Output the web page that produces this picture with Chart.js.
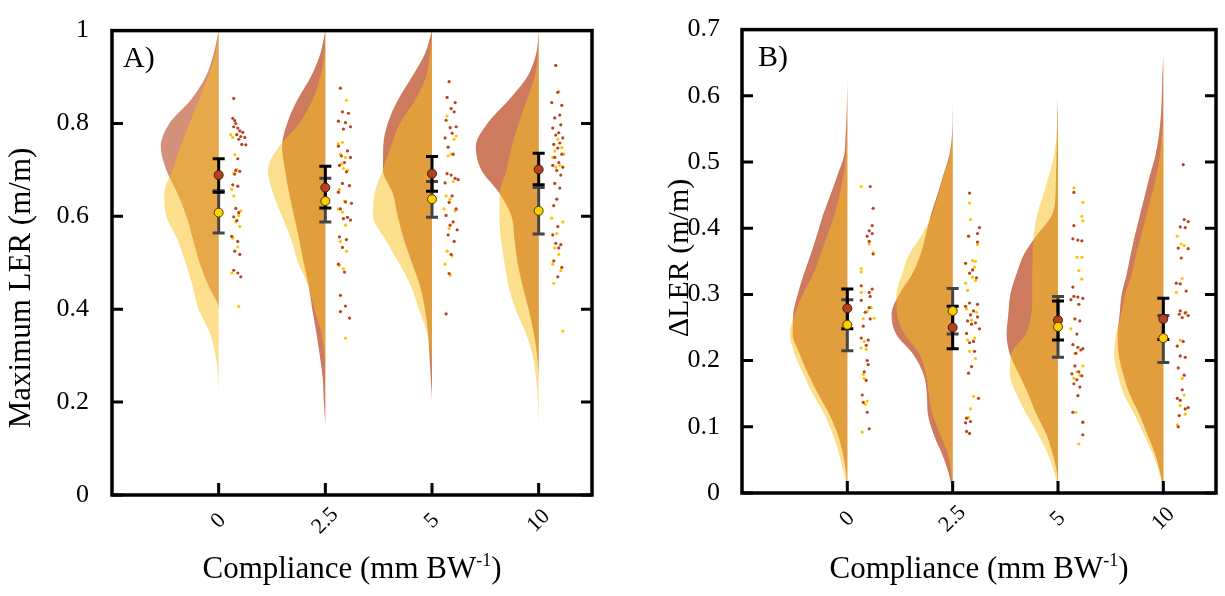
<!DOCTYPE html>
<html>
<head>
<meta charset="utf-8">
<script src="https://cdn.jsdelivr.net/npm/chart.js@4/dist/chart.umd.min.js"></script>
<style>
  body { margin: 0; background: #fff; }
  #wrap { position: relative; width: 1225px; height: 596px; }
  canvas { position: absolute; top: 0; }
  #chartA { left: 0; }
  #chartB { left: 612px; }
</style>
</head>
<body>
<div id="wrap">
  <canvas id="chartA" width="612" height="596"></canvas>
  <canvas id="chartB" width="613" height="596"></canvas>
</div>
<script>
const categories = ['0', '2.5', '5', '10'];

// y levels at which the cloud widths were read
const gridA = [0.15, 0.20, 0.25, 0.30, 0.35, 0.40, 0.45, 0.50, 0.55, 0.60, 0.65, 0.70, 0.75, 0.80, 0.85, 0.90, 0.95, 1.00];
const gridB = [0, 0.03, 0.06, 0.09, 0.12, 0.15, 0.18, 0.21, 0.24, 0.27, 0.30, 0.33, 0.36, 0.39, 0.42, 0.45, 0.48, 0.51, 0.54, 0.57, 0.60, 0.63, 0.66];

// half-widths of the density clouds (106 = one category step), one row per category
const cloudA_red = [
  [0, 0, 0, 0, 0, 0, 10, 19, 25.5, 32, 41, 52, 57.5, 49, 28, 13, 5, 0],
  [0, 1.5, 2.5, 5.5, 9, 13, 16.5, 21.5, 26, 31, 36, 40, 43, 38, 28, 14.5, 5, 0],
  [0, 0, 1.2, 2.5, 4, 7, 12, 20, 28, 34, 39, 48.7, 48.5, 44, 34, 20, 7, 0],
  [0, 0, 0, 1.5, 5, 10, 16, 21, 24, 27, 39, 57, 62.5, 51, 30, 11.5, 2.5, 0]
];
const cloudA_yellow = [
  [0, 0, 0.5, 3, 9, 20, 26, 33, 41, 52, 54, 46, 38, 29, 20, 11, 3, 0],
  [0, 0, 0, 1, 4, 11, 17, 27, 34, 43, 52, 57, 46, 26, 13, 5, 1, 0],
  [0, 0, 0, 1, 5, 13, 21, 33, 46.5, 58.5, 57, 49, 41, 32, 17, 6, 2, 0],
  [0, 0.8, 2.5, 6, 13, 23, 30, 34, 37.5, 39, 38.7, 32, 27, 20, 12, 4, 0.8, 0]
];
const cloudB_red = [
  [0, 1.2, 4.5, 10, 18.5, 29.5, 39.5, 48, 55, 54.5, 50, 44, 37, 30.5, 24.5, 17, 10, 3.3, 1.8, 0.8, 0.3, 0, 0],
  [0, 4, 11, 19.5, 25, 26, 29.5, 40, 57, 61.5, 54, 41, 32.5, 27, 22, 15.5, 9.5, 3.5, 0.7, 0.2, 0, 0, 0],
  [0, 1, 5.5, 12, 22, 30, 39.5, 48.5, 51.7, 50, 48, 42, 34.5, 21, 6, 2.5, 2, 1.5, 1, 0.5, 0, 0, 0],
  [0, 3, 8.5, 16.5, 24.5, 34, 40.5, 45, 46, 44, 42, 37, 33, 28.5, 23.5, 18.5, 13.5, 8, 4.5, 2.5, 1.5, 1, 0]
];
const cloudB_yellow = [
  [0, 3.5, 8.5, 15, 23.5, 35, 44.5, 53, 58, 53, 45, 34.5, 27, 20, 13, 8, 4, 1.5, 0.8, 0.3, 0, 0, 0],
  [0, 1.5, 5, 13, 20.5, 24, 27, 33.5, 48.5, 56, 56.5, 51, 44, 31, 21, 14.5, 9, 3, 0.5, 0, 0, 0, 0],
  [0, 3.5, 10.5, 20.5, 32, 42, 48.5, 47, 32.5, 27, 26, 26, 25.5, 24.5, 21, 15, 9, 4, 1.5, 0.5, 0, 0, 0],
  [0, 4, 11, 20, 29.5, 40, 46, 49.5, 47.5, 42.5, 38.5, 32, 27.5, 22, 17, 11.5, 7, 3.5, 1.5, 0, 0, 0, 0]
];

// raw points: [jitter (106 = one step), value]
const dotsA_red = [
  [[15,.854],[14,.811],[16,.806],[17,.800],[15,.793],[19,.790],[21,.784],[24,.781],[18,.776],[22,.772],[26,.770],[20,.766],[23,.755],[27,.754],[19,.724],[17,.699],[21,.697],[16,.691],[14,.668],[19,.665],[17,.617],[20,.608],[15,.599],[18,.591],[13,.557],[19,.546],[16,.525],[21,.518],[15,.484],[19,.478],[22,.470]],
  [[15,.876],[17,.825],[23,.822],[13,.805],[20,.802],[25,.793],[18,.788],[13,.751],[22,.741],[16,.730],[25,.727],[19,.716],[14,.710],[21,.696],[17,.671],[24,.666],[13,.652],[20,.631],[26,.628],[15,.616],[22,.598],[18,.595],[25,.592],[14,.556],[21,.550],[17,.533],[13,.497],[19,.480],[15,.430],[20,.407],[15,.395],[24,.381]],
  [[17,.890],[15,.856],[23,.845],[19,.832],[22,.825],[14,.807],[24,.793],[18,.791],[20,.779],[13,.769],[16,.749],[21,.734],[15,.692],[19,.689],[23,.682],[26,.679],[13,.672],[20,.644],[17,.630],[24,.616],[14,.602],[21,.588],[18,.581],[25,.571],[16,.560],[22,.546],[19,.518],[17,.477],[14,.390]],
  [[17,.925],[19,.867],[13,.845],[23,.839],[21,.818],[16,.812],[22,.797],[14,.790],[20,.780],[17,.775],[24,.769],[21,.758],[15,.755],[19,.747],[23,.734],[16,.727],[20,.716],[14,.710],[24,.706],[18,.699],[22,.689],[16,.671],[21,.661],[18,.637],[15,.623],[19,.578],[14,.560],[17,.542],[22,.539],[20,.532],[15,.504],[23,.490],[19,.470]]
];
const dotsA_yellow = [
  [[12,.776],[14,.770],[16,.733],[18,.701],[15,.692],[13,.658],[15,.644],[22,.612],[20,.602],[17,.588],[21,.578],[14,.553],[19,.534],[13,.478],[20,.406]],
  [[21,.850],[17,.759],[13,.756],[15,.734],[20,.727],[16,.713],[18,.703],[22,.699],[14,.658],[19,.633],[13,.616],[17,.609],[20,.581],[15,.546],[21,.525],[14,.494],[18,.487],[20,.338]],
  [[15,.816],[24,.773],[22,.766],[19,.734],[16,.730],[21,.675],[14,.644],[18,.637],[12,.616],[23,.612],[17,.574],[15,.525],[20,.515],[13,.497],[18,.473]],
  [[20,.869],[19,.766],[23,.748],[16,.741],[25,.734],[14,.727],[21,.710],[17,.706],[13,.596],[24,.588],[18,.563],[16,.532],[20,.518],[14,.497],[22,.483],[15,.456],[24,.353]]
];
const dotsB_red = [
  [[23,.463],[26,.430],[25,.404],[22,.396],[25,.392],[20,.388],[22,.380],[26,.361],[14,.313],[25,.308],[22,.303],[23,.297],[14,.291],[22,.280],[18,.273],[23,.263],[16,.252],[14,.234],[21,.231],[19,.223],[20,.200],[21,.194],[17,.183],[19,.170],[15,.148],[16,.137],[20,.122],[22,.097]],
  [[17,.453],[27,.401],[25,.392],[16,.388],[25,.379],[13,.347],[20,.337],[17,.332],[24,.325],[17,.287],[25,.285],[13,.282],[21,.275],[18,.269],[25,.266],[15,.260],[23,.257],[19,.255],[27,.248],[14,.241],[21,.229],[17,.227],[22,.214],[19,.191],[16,.181],[26,.143],[14,.113],[18,.108],[13,.106],[14,.093],[17,.090]],
  [[16,.454],[16,.404],[15,.384],[20,.382],[24,.381],[15,.311],[16,.297],[20,.296],[25,.294],[13,.292],[21,.285],[17,.263],[22,.260],[19,.240],[15,.224],[20,.220],[25,.218],[23,.216],[18,.211],[17,.192],[21,.183],[14,.180],[24,.177],[19,.171],[16,.165],[22,.160],[20,.147],[15,.122],[25,.107],[25,.088]],
  [[20,.496],[21,.413],[25,.410],[17,.402],[22,.401],[15,.370],[25,.369],[18,.355],[13,.317],[17,.316],[23,.305],[17,.275],[22,.272],[16,.270],[25,.268],[19,.265],[20,.229],[14,.222],[17,.207],[22,.205],[15,.189],[21,.178],[19,.156],[14,.143],[17,.140],[25,.129],[22,.127],[16,.117],[15,.100]]
];
const dotsB_yellow = [
  [[14,.463],[22,.376],[26,.363],[14,.339],[14,.334],[14,.303],[24,.280],[20,.274],[27,.264],[16,.263],[17,.229],[14,.219],[19,.217],[16,.179],[17,.173],[20,.139],[18,.134],[15,.092]],
  [[17,.438],[18,.413],[25,.375],[20,.351],[23,.350],[22,.341],[20,.326],[23,.321],[13,.317],[15,.306],[14,.278],[24,.273],[19,.261],[22,.234],[15,.231],[17,.214],[23,.203],[21,.146],[18,.127],[16,.114]],
  [[16,.461],[25,.439],[24,.418],[25,.411],[19,.356],[24,.356],[21,.336],[24,.323],[13,.248],[17,.211],[25,.192],[19,.183],[22,.178],[16,.173],[18,.122],[25,.107],[21,.074]],
  [[14,.388],[18,.376],[21,.374],[19,.324],[13,.303],[23,.273],[17,.231],[14,.222],[19,.173],[21,.148],[17,.132],[22,.119],[14,.103]]
];

// means and error bar limits
const meanA_red = [0.689, 0.662, 0.692, 0.701];
const loA_red = [0.652, 0.618, 0.654, 0.668];
const hiA_red = [0.724, 0.708, 0.729, 0.736];
const meanA_yellow = [0.608, 0.633, 0.637, 0.612];
const loA_yellow = [0.564, 0.588, 0.598, 0.562];
const hiA_yellow = [0.655, 0.682, 0.675, 0.662];

const meanB_red = [0.279, 0.250, 0.261, 0.263];
const loB_red = [0.248, 0.218, 0.231, 0.232];
const hiB_red = [0.308, 0.282, 0.290, 0.294];
const meanB_yellow = [0.254, 0.275, 0.251, 0.234];
const loB_yellow = [0.215, 0.240, 0.205, 0.197];
const hiB_yellow = [0.292, 0.309, 0.297, 0.268];

const SERIF = '"Liberation Serif", "Times New Roman", serif';
const STEP = 106;

function cloud(k, grid, widths, color, order) {
  return {
    type: 'line',
    data: grid.map((y, i) => ({ x: k - widths[i] / STEP, y })),
    indexAxis: 'y',
    cubicInterpolationMode: 'monotone',
    fill: 'shape',
    backgroundColor: color,
    borderWidth: 0,
    pointRadius: 0,
    order
  };
}

function dots(k, pts, color) {
  return {
    type: 'scatter',
    data: pts.map(([dx, v]) => ({ x: k + dx / STEP, y: v })),
    pointRadius: 1.6,
    borderWidth: 0,
    backgroundColor: color,
    order: 40
  };
}

function errBar(k, lo, hi, color, order) {
  return {
    type: 'line',
    data: [{ x: k, y: lo }, { x: k, y: hi }],
    borderColor: color,
    borderWidth: 3,
    pointStyle: 'line',
    pointRadius: 6,
    pointBorderWidth: 3,
    pointBorderColor: color,
    fill: false,
    order
  };
}

function markers(means, fill, edge, order) {
  return {
    type: 'scatter',
    data: means.map((v, k) => ({ x: k, y: v })),
    pointRadius: 4.5,
    backgroundColor: fill,
    borderColor: edge,
    borderWidth: 1,
    order
  };
}

function decor(p) {
  return {
    id: 'decor',
    afterDatasetsDraw(chart) {
      const { ctx, chartArea: a, scales: { x, y } } = chart;
      ctx.save();
      ctx.strokeStyle = '#000';
      ctx.lineWidth = 3;
      ctx.beginPath();
      y.ticks.forEach(t => {
        const py = y.getPixelForValue(t.value);
        ctx.moveTo(a.left, py); ctx.lineTo(a.left + 11, py);
        ctx.moveTo(a.right, py); ctx.lineTo(a.right - 11, py);
      });
      categories.forEach((c, k) => {
        const px = x.getPixelForValue(k);
        ctx.moveTo(px, a.bottom); ctx.lineTo(px, a.bottom - 12);
      });
      ctx.stroke();
      ctx.lineWidth = 3.5;
      ctx.strokeRect(a.left, a.top, a.right - a.left, a.bottom - a.top);

      ctx.fillStyle = '#000';
      // rotated category labels, centred under the ticks
      ctx.font = '22px ' + SERIF;
      ctx.textAlign = 'center';
      ctx.textBaseline = 'middle';
      categories.forEach((c, k) => {
        ctx.save();
        ctx.translate(x.getPixelForValue(k), a.bottom + 26);
        ctx.rotate(-Math.PI / 4);
        ctx.fillText(c, 0, 0);
        ctx.restore();
      });

      // panel letter
      ctx.font = '30px ' + SERIF;
      ctx.textAlign = 'left';
      ctx.textBaseline = 'alphabetic';
      ctx.fillText(p.letter, a.left + p.letterDx, a.top + 36);

      // y title
      ctx.save();
      ctx.translate(p.yTitleX, p.yTitleY);
      ctx.rotate(-Math.PI / 2);
      ctx.textAlign = 'center';
      ctx.textBaseline = 'middle';
      ctx.font = p.yTitleSize + 'px ' + SERIF;
      ctx.fillText(p.yTitle, 0, 0);
      ctx.restore();

      // x title with superscript
      const main = 'Compliance (mm BW', sup = '-1', close = ')';
      ctx.font = '31px ' + SERIF;
      const w1 = ctx.measureText(main).width, w3 = ctx.measureText(close).width;
      ctx.font = '18px ' + SERIF;
      const w2 = ctx.measureText(sup).width;
      let sx = (a.left + a.right) / 2 - (w1 + w2 + w3) / 2;
      const base = 578;
      ctx.font = '31px ' + SERIF;
      ctx.fillText(main, sx, base); sx += w1;
      ctx.font = '18px ' + SERIF;
      ctx.fillText(sup, sx, base - 12); sx += w2;
      ctx.font = '31px ' + SERIF;
      ctx.fillText(close, sx, base);
      ctx.restore();
    }
  };
}

function buildPanel(canvasId, p) {
  const datasets = [];
  categories.forEach((c, k) => {
    datasets.push(cloud(k, p.grid, p.cloudRed[k], p.redColors[k], 60));
    datasets.push(cloud(k, p.grid, p.cloudYellow[k], 'rgba(247,191,25,0.5)', 50));
    datasets.push(dots(k, p.dotsRed[k], '#b8431f'));
    datasets.push(dots(k, p.dotsYellow[k], '#ffc400'));
    datasets.push(errBar(k, p.loYellow[k], p.hiYellow[k], '#454545', 30));
    datasets.push(errBar(k, p.loRed[k], p.hiRed[k], '#000000', 20));
  });
  datasets.push(markers(p.meanRed, '#b5401e', '#3b1a0d', 10));
  datasets.push(markers(p.meanYellow, '#ffd000', '#4a3a00', 5));

  return new Chart(document.getElementById(canvasId), {
    type: 'scatter',
    data: { datasets },
    options: {
      responsive: false,
      animation: false,
      events: [],
      layout: { padding: p.padding },
      plugins: { legend: { display: false }, tooltip: { enabled: false } },
      scales: {
        x: {
          type: 'linear', min: -1, max: 3.5,
          ticks: { display: false },
          grid: { display: false },
          border: { display: false },
          afterFit(s) { s.height = p.xHeight; }
        },
        y: {
          type: 'linear', min: 0, max: p.yMax,
          ticks: {
            stepSize: p.yStep, color: '#000', padding: p.tickPad,
            font: { family: SERIF, size: 26 },
            callback: v => String(Number(v.toFixed(2)))
          },
          grid: { display: false },
          border: { display: false },
          afterFit(s) { s.width = p.yWidth; }
        }
      }
    },
    plugins: [decor(p)]
  });
}

buildPanel('chartA', {
  grid: gridA, cloudRed: cloudA_red, cloudYellow: cloudA_yellow,
  redColors: ['#d59079', '#cd7a5e', '#cd7a5e', '#cd7a5e'],
  dotsRed: dotsA_red, dotsYellow: dotsA_yellow,
  meanRed: meanA_red, loRed: loA_red, hiRed: hiA_red,
  meanYellow: meanA_yellow, loYellow: loA_yellow, hiYellow: hiA_yellow,
  yMax: 1, yStep: 0.2, tickPad: 15,
  padding: { top: 16, right: 20, left: 0, bottom: 0 },
  xHeight: 101, yWidth: 112,
  letter: 'A)', letterDx: 11,
  yTitle: 'Maximum LER (m/m)', yTitleSize: 31, yTitleX: 22, yTitleY: 288
});

buildPanel('chartB', {
  grid: gridB, cloudRed: cloudB_red, cloudYellow: cloudB_yellow,
  redColors: ['#cd7a5e', '#cd7a5e', '#cd7a5e', '#cd7a5e'],
  dotsRed: dotsB_red, dotsYellow: dotsB_yellow,
  meanRed: meanB_red, loRed: loB_red, hiRed: hiB_red,
  meanYellow: meanB_yellow, loYellow: loB_yellow, hiYellow: hiB_yellow,
  yMax: 0.7, yStep: 0.1, tickPad: 14,
  padding: { top: 15, right: 5, left: 0, bottom: 0 },
  xHeight: 103, yWidth: 130,
  letter: 'B)', letterDx: 16,
  yTitle: '\u0394LER (m/m)', yTitleSize: 30, yTitleX: 68, yTitleY: 258
});
</script>
</body>
</html>
